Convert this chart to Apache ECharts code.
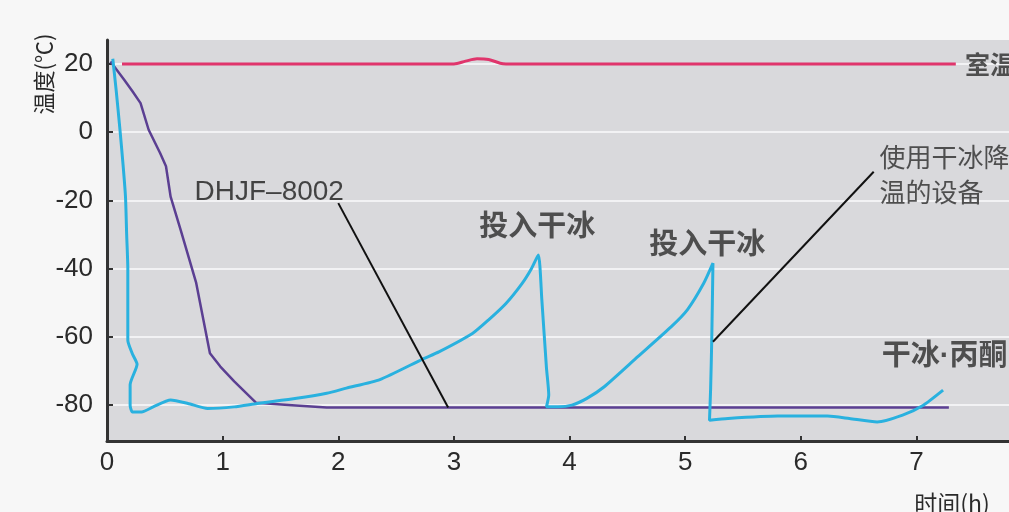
<!DOCTYPE html>
<html>
<head>
<meta charset="utf-8">
<script src="https://cdn.jsdelivr.net/npm/echarts@6/dist/echarts.min.js"></script>
<style>
  html, body { margin: 0; padding: 0; background: #f7f7f7; }
  #chart { width: 1009px; height: 512px; }
</style>
</head>
<body>
<div id="chart"></div>
<script>
// Room temperature (室温), time in hours vs °C
const roomTemp = [
  [0.13, 20], [3.0, 20], [3.1, 20.8], [3.2, 21.5], [3.3, 21.3], [3.4, 20.2], [3.45, 20], [7.34, 20]
];

// DHJF-8002 cooling curve
const dhjf = [
  [0.03, 20.7], [0.15, 15.3], [0.22, 12], [0.29, 8.5], [0.36, 0.7], [0.46, -6.2], [0.51, -10],
  [0.55, -18.9], [0.64, -29], [0.77, -44], [0.89, -64.8], [0.98, -68.7], [1.1, -73],
  [1.29, -79.3], [1.6, -80], [1.9, -80.7], [7.28, -80.7]
];

// Dry-ice / acetone bath (干冰·丙酮), topped up twice
const dryIce = [
  [0.05, 21.5], [0.08, 12], [0.11, 1.5], [0.14, -10], [0.16, -19], [0.17, -30], [0.18, -40],
  [0.18, -52], [0.18, -61], [0.22, -65], [0.26, -68], [0.2, -74], [0.2, -80], [0.22, -82],
  [0.3, -82], [0.4, -80.5], [0.55, -78.5], [0.7, -79.5], [0.87, -81], [1.1, -80.5], [1.3, -79.5],
  [1.64, -78], [1.9, -76.5], [2.07, -75], [2.36, -72.5], [2.73, -66.5], [2.87, -64.4],
  [3.16, -59], [3.3, -55], [3.45, -50.2], [3.59, -44.3], [3.67, -40], [3.73, -36],
  [3.76, -49], [3.8, -69], [3.82, -77], [3.8, -80.5], [3.9, -80.5], [4.02, -80], [4.15, -78],
  [4.3, -74.6], [4.59, -65.8], [4.88, -57], [5.02, -52], [5.16, -44.3], [5.24, -38.4],
  [5.23, -60], [5.22, -75], [5.21, -84.4], [5.37, -83.9], [5.8, -83.2], [6.23, -83.2],
  [6.42, -83.9], [6.66, -84.9], [6.88, -82.9], [7.06, -80], [7.23, -75.6]
];

// Tick values
const xTicks = [0, 1, 2, 3, 4, 5, 6, 7];
const yTicks = [-80, -60, -40, -20, 0, 20];

// Callout text anchors (left edge, vertical middle) and leader lines
const calloutTexts = ['DHJF–8002', '投入干冰', '投入干冰', '使用干冰降\n温的设备', '室温', '干冰·丙酮'];
const calloutAnchors = [[0.757, -17.5], [3.22, -27.2], [4.69, -32.5], [6.68, -12.4], [7.42, 19.7], [6.7, -65.9]];
const leaderDhjf = [[2.0, -20.8], [2.95, -80.7]];
const leaderDevice = [[6.63, -11.6], [5.24, -61.4]];

const chart = echarts.init(document.getElementById('chart'));
const font = '"Liberation Sans", Arial, "Noto Sans CJK SC", sans-serif';
const cjk = '"Noto Sans CJK SC", "Liberation Sans", sans-serif';
const latinFirst = '"Liberation Sans", "Noto Sans CJK SC", sans-serif';

const calloutStyles = [
  { fontSize: 28, fontFamily: font, fontWeight: 'normal', color: '#1c1c1c' },
  { fontSize: 29, fontFamily: cjk, fontWeight: 'bold' },
  { fontSize: 29, fontFamily: cjk, fontWeight: 'bold' },
  { fontSize: 26, fontFamily: cjk, fontWeight: 'normal', lineHeight: 35 },
  { fontSize: 25, fontFamily: cjk, fontWeight: 'bold' },
  { fontSize: 29, fontFamily: latinFirst, fontWeight: 'bold' }
];

chart.setOption({
  backgroundColor: '#f7f7f7',
  animation: false,
  grid: {
    left: 107, right: -5, top: 40, bottom: 71,
    show: true, backgroundColor: '#d9d9dc', borderWidth: 0
  },
  xAxis: {
    type: 'value', min: 0, max: 7.8, interval: 1,
    axisLine: { show: true, onZero: false, lineStyle: { color: '#333', width: 3 } },
    axisTick: { show: true, inside: true, length: 5, customValues: xTicks, lineStyle: { color: '#333', width: 2 } },
    axisLabel: {
      customValues: xTicks, margin: 9, color: '#2a2a2a', fontSize: 26, fontFamily: font
    },
    splitLine: { show: false }
  },
  yAxis: {
    type: 'value', min: -90.5, max: 27,
    axisLine: { show: true, onZero: false, lineStyle: { color: '#333', width: 3 } },
    axisTick: { show: true, inside: true, length: 6, customValues: yTicks, lineStyle: { color: '#333', width: 2 } },
    axisLabel: {
      customValues: yTicks, margin: 14, color: '#2a2a2a', fontSize: 26, fontFamily: font
    },
    splitLine: { show: true, lineStyle: { color: '#f2f2f4', width: 2 } }
  },
  graphic: [
    {
      type: 'text', x: 44, y: 74, rotation: Math.PI / 2,
      style: { text: '温度(℃)', font: '22px ' + cjk, fill: '#2a2a2a', align: 'center', verticalAlign: 'middle' }
    },
    {
      type: 'text', x: 952, y: 503,
      style: { text: '时间(h)', font: '23px ' + cjk, fill: '#2a2a2a', align: 'center', verticalAlign: 'middle' }
    }
  ],
  series: [
    {
      name: '室温', type: 'line', data: roomTemp, showSymbol: false, smooth: 0.3,
      lineStyle: { color: '#e0356c', width: 3 }, z: 3
    },
    {
      name: 'DHJF-8002', type: 'line', data: dhjf, showSymbol: false,
      lineStyle: { color: '#5b3f92', width: 2.5 }, z: 4
    },
    {
      name: '干冰·丙酮', type: 'line', data: dryIce, showSymbol: false, smooth: 0.2,
      lineStyle: { color: '#29b1df', width: 3 }, z: 5
    },
    {
      type: 'line', data: leaderDhjf, showSymbol: false,
      lineStyle: { color: '#111', width: 2 }, z: 6
    },
    {
      type: 'line', data: leaderDevice, showSymbol: false,
      lineStyle: { color: '#111', width: 2 }, z: 6
    },
    {
      type: 'scatter', symbolSize: 0, clip: false, z: 7,
      data: calloutAnchors.map((p, i) => ({
        value: p, name: calloutTexts[i],
        label: Object.assign({
          show: true, position: 'right', distance: 0, formatter: '{b}',
          color: '#2a2a2a', align: 'left', verticalAlign: 'middle'
        }, calloutStyles[i])
      }))
    }
  ]
});
</script>
</body>
</html>
